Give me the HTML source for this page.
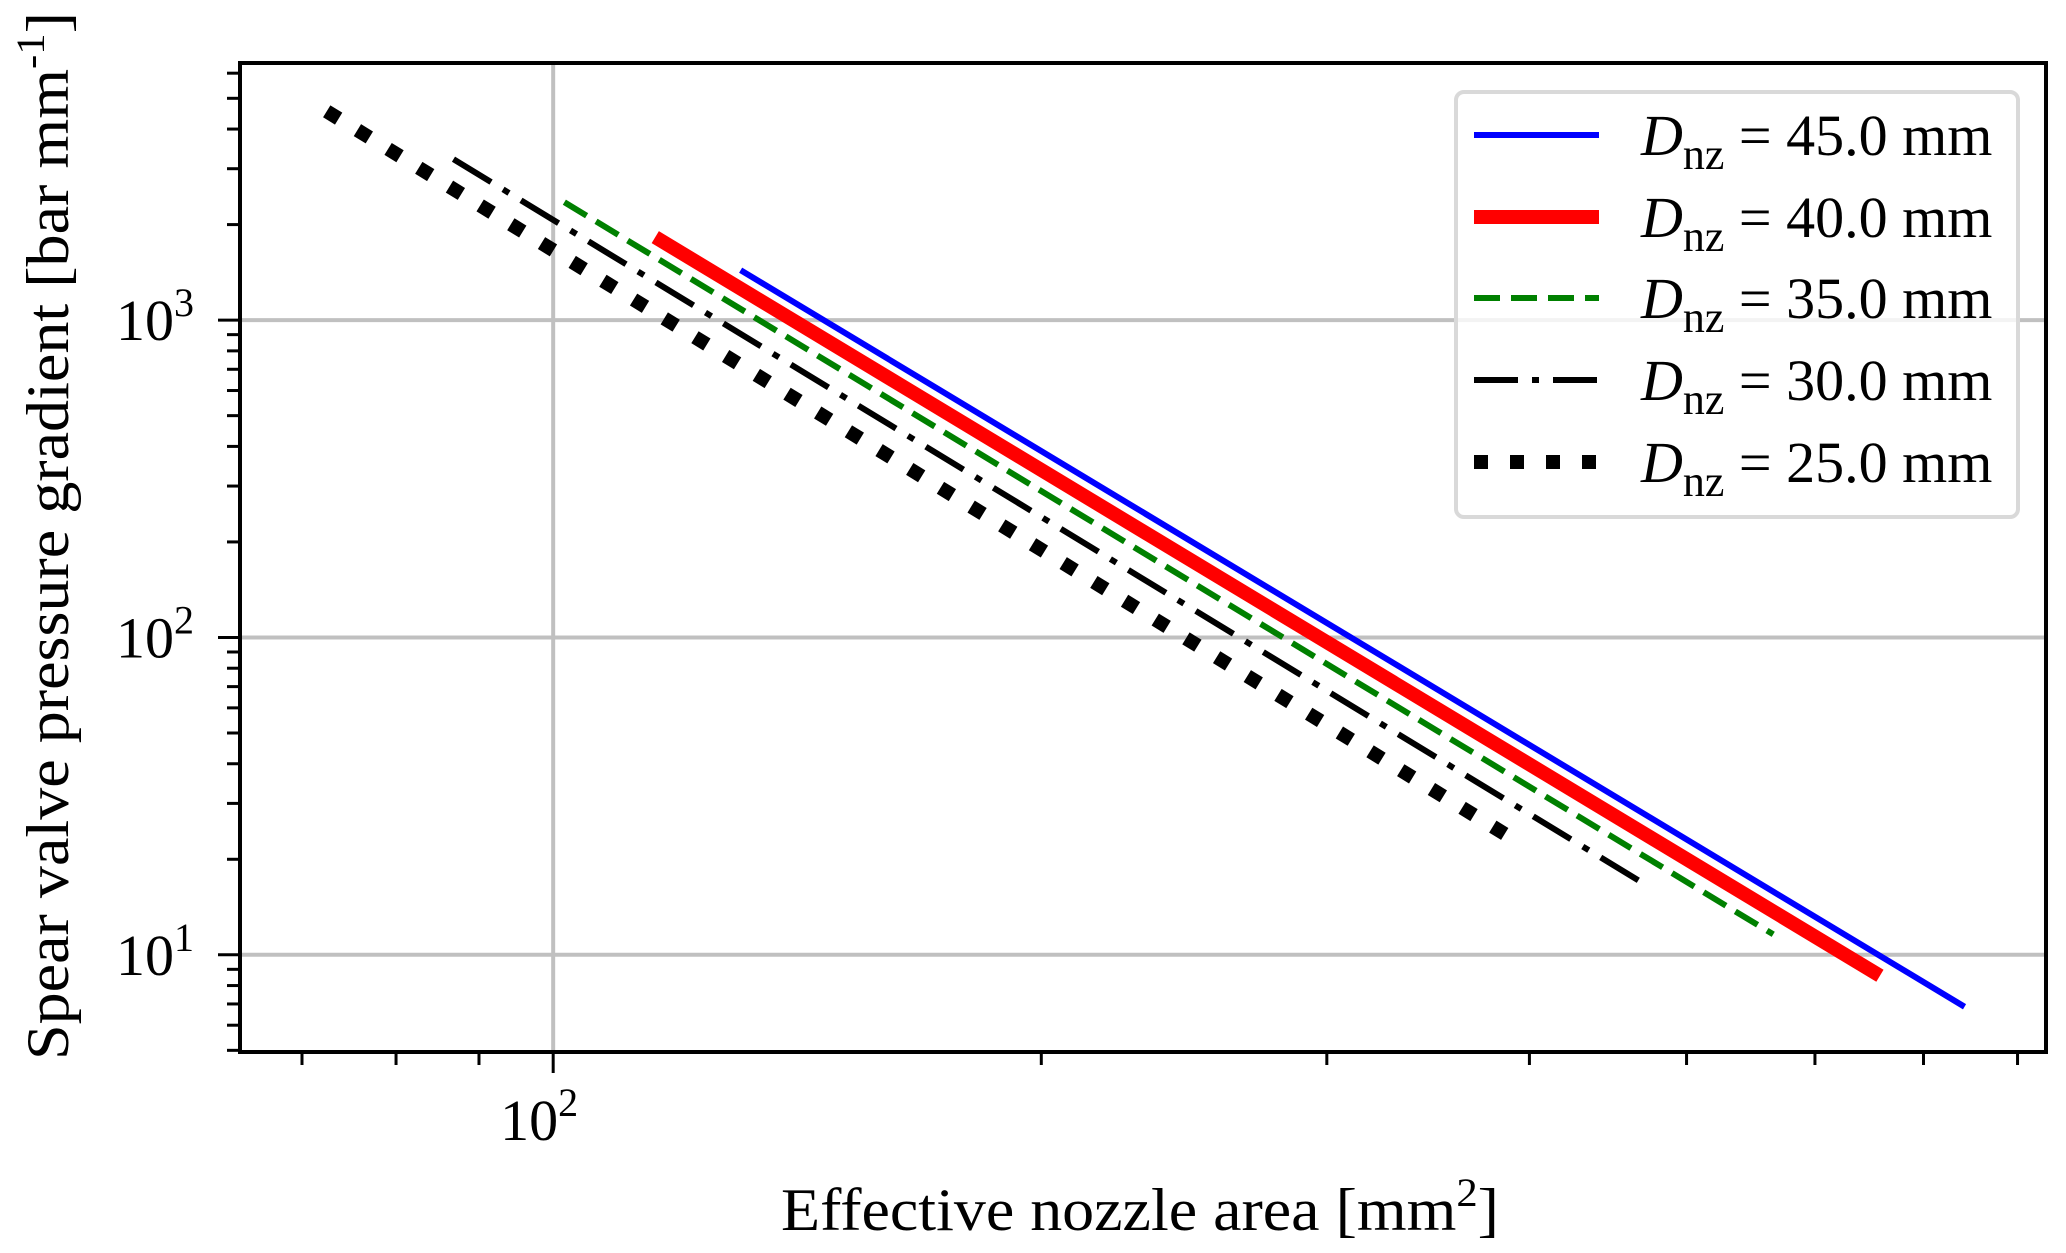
<!DOCTYPE html>
<html><head><meta charset="utf-8"><style>
html,body{margin:0;padding:0;background:#fff;}
svg{display:block;font-family:"Liberation Serif",serif;}
</style></head><body>
<svg id="chart" width="2066" height="1253" viewBox="0 0 2066 1253" xmlns="http://www.w3.org/2000/svg">
<rect x="0" y="0" width="2066" height="1253" fill="#fff"/>
<g id="grid"></g>
<g id="series"></g>
<g id="axes"></g>
<g id="legend"></g>
<text x="1140" y="1230" font-size="60" text-anchor="middle" textLength="718" lengthAdjust="spacingAndGlyphs">Effective nozzle area [mm<tspan dy="-24" font-size="40">2</tspan><tspan dy="24">]</tspan></text>
<text transform="translate(68,536) rotate(-90)" font-size="60" text-anchor="middle" textLength="1048" lengthAdjust="spacingAndGlyphs">Spear valve pressure gradient [bar mm<tspan dy="-24" font-size="40">-1</tspan><tspan dy="24">]</tspan></text>
</svg>
<script>
const seriesLabels = ["45.0", "40.0", "35.0", "30.0", "25.0"];
const xStart = [130.5, 115.6, 101.6, 86.8, 72.5];
const yStart = [1437, 1826, 2353, 3214, 4550];
const xEnd = [742, 658, 565.5, 472, 389];
const yEnd = [6.86, 8.59, 11.6, 16.6, 23.5];
const yMajorTicks = [1, 2, 3];
const xMajorTicks = [2];
const xMinorTicks = [70, 80, 90, 200, 300, 400, 500, 600, 700, 800];
const yMinorTicks = [5, 6, 7, 8, 9, 20, 30, 40, 50, 60, 70, 80, 90, 200, 300, 400, 500, 600, 700, 800, 900, 2000, 3000, 4000, 5000, 6000];

const L = 240, R = 2046, T = 63, B = 1052;
const xLog0 = 64.1, xLog1 = 833, yLog0 = 4.94, yLog1 = 6460;
function xs(v) { return L + (Math.log10(v) - Math.log10(xLog0)) / (Math.log10(xLog1) - Math.log10(xLog0)) * (R - L); }
function ys(v) { return B - (Math.log10(v) - Math.log10(yLog0)) / (Math.log10(yLog1) - Math.log10(yLog0)) * (B - T); }

const NS = "http://www.w3.org/2000/svg";
function mk(tag, attrs, parent) {
  const e = document.createElementNS(NS, tag);
  for (const k in attrs) e.setAttribute(k, attrs[k]);
  parent.appendChild(e);
  return e;
}
const grid = document.getElementById("grid"), ser = document.getElementById("series"),
      axes = document.getElementById("axes"), leg = document.getElementById("legend");

const styles = [
  {stroke: "#0000ff", w: 6, dash: null},
  {stroke: "#ff0000", w: 14, dash: null},
  {stroke: "#008000", w: 6, dash: "26 11"},
  {stroke: "#000000", w: 6, dash: "44 14 7 14"},
  {stroke: "#000000", w: 14, dash: "14 22"}
];

yMajorTicks.forEach(p => {
  const y = ys(Math.pow(10, p));
  const g = mk("line", {x1: L, x2: R, y1: y, y2: y, stroke: "#c0c0c0", "stroke-width": 4}, grid);
  
  
});
xMajorTicks.forEach(p => {
  const x = xs(Math.pow(10, p));
  const g = mk("line", {x1: x, x2: x, y1: T, y2: B, stroke: "#c0c0c0", "stroke-width": 4}, grid);
  
  
});

seriesLabels.forEach((lab, i) => {
  const s = styles[i];
  const a = {x1: xs(xStart[i]), y1: ys(yStart[i]), x2: xs(xEnd[i]), y2: ys(yEnd[i]), stroke: s.stroke, "stroke-width": s.w, "stroke-linecap": "butt"};
  if (s.dash) a["stroke-dasharray"] = s.dash;
  const l = mk("line", a, ser);
  
  
});

const frame = mk("rect", {x: L, y: T, width: R - L, height: B - T, fill: "none", stroke: "#000", "stroke-width": 4}, axes);



xMajorTicks.forEach(p => {
  const v = Math.pow(10, p), x = xs(v);
  const t = mk("line", {x1: x, x2: x, y1: B, y2: B + 21, stroke: "#000", "stroke-width": 3}, axes);
  
  
  const tx = mk("text", {x: x - 14, y: 1140, "font-size": 58, "text-anchor": "middle"}, axes);
  
  
  tx.innerHTML = '10<tspan dy="-24" font-size="40">' + p + '</tspan>';
});
xMinorTicks.forEach(v => {
  const x = xs(v);
  const t = mk("line", {x1: x, x2: x, y1: B, y2: B + 13, stroke: "#000", "stroke-width": 3}, axes);
  
  
});
yMajorTicks.forEach(p => {
  const y = ys(Math.pow(10, p));
  const t = mk("line", {x1: L - 22, x2: L, y1: y, y2: y, stroke: "#000", "stroke-width": 3}, axes);
  
  
  const tx = mk("text", {x: 194, y: y + 20, "font-size": 58, "text-anchor": "end"}, axes);
  
  
  tx.innerHTML = '10<tspan dy="-24" font-size="40">' + p + '</tspan>';
});
yMinorTicks.forEach(v => {
  const y = ys(v);
  const t = mk("line", {x1: L - 13, x2: L, y1: y, y2: y, stroke: "#000", "stroke-width": 3}, axes);
  
  
});

const box = mk("rect", {x: 1456, y: 92, width: 562, height: 425, rx: 8, fill: "#fff", "fill-opacity": 0.8, stroke: "#d9d9d9", "stroke-width": 4}, leg);


const rowY = [135, 217, 298, 380, 462];
seriesLabels.forEach((lab, i) => {
  const s = styles[i], y = rowY[i];
  const g = mk("g", {}, leg);
  
  
  const a = {x1: 1474, x2: 1599, y1: y, y2: y, stroke: s.stroke, "stroke-width": s.w};
  if (s.dash) a["stroke-dasharray"] = s.dash;
  const ln = mk("line", a, g);
  
  
  const tx = mk("text", {x: 1641, y: y + 20, "font-size": 58}, g);
  
  
  tx.innerHTML = '<tspan font-style="italic">D</tspan><tspan dy="14" font-size="44">nz</tspan><tspan dy="-14"> = ' + lab + ' mm</tspan>';
});
</script>
</body></html>
